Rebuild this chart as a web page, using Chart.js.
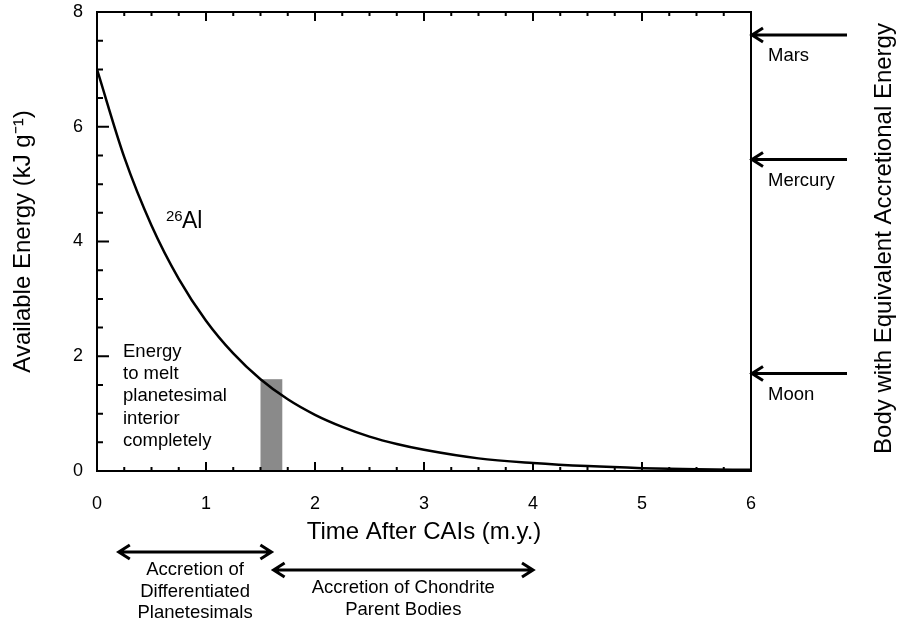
<!DOCTYPE html>
<html>
<head>
<meta charset="utf-8">
<script src="https://cdn.jsdelivr.net/npm/chart.js@4/dist/chart.umd.min.js"></script>
<style>
  html, body { margin: 0; padding: 0; background: #fff; }
</style>
</head>
<body>
<canvas id="energyChart" width="899" height="623"></canvas>
<script>
// 26Al curve (time in m.y., energy in kJ/g)
const timeMy = [0, 0.25, 0.5, 0.75, 1.0, 1.25, 1.5, 1.75, 2.0, 2.25, 2.5, 2.75, 3.0, 3.5, 4.0, 4.5, 5.0, 5.5, 6.0];
const energyAl26 = [7.00, 5.47, 4.28, 3.35, 2.62, 2.05, 1.60, 1.25, 0.98, 0.77, 0.60, 0.47, 0.37, 0.22, 0.14, 0.085, 0.05, 0.03, 0.02];

const xTicks = [0, 1, 2, 3, 4, 5, 6];
const yTicks = [0, 2, 4, 6, 8];

// grey bar: energy to melt a planetesimal
const meltTime = [1.5, 1.7];
const meltEnergy = 1.6;
const meltText = ['Energy', 'to melt', 'planetesimal', 'interior', 'completely'];

// bodies with equivalent accretional energy (right side arrows)
const bodyNames = ['Mars', 'Mercury', 'Moon'];
const bodyEnergy = [7.6, 5.43, 1.70];

// accretion intervals under the time axis
const phaseStart = [0.2, 1.62];
const phaseEnd = [1.6, 4.0];
const phaseText = [
    ['Accretion of', 'Differentiated', 'Planetesimals'],
    ['Accretion of Chondrite', 'Parent Bodies']
];

const FONT = "'Liberation Sans', Arial, Helvetica, sans-serif";
Chart.defaults.font.family = FONT;
Chart.defaults.color = '#000';

function arrowHead(ctx, tipX, tipY, dir) {
    // dir = -1 points left, +1 points right
    ctx.moveTo(tipX - dir * 11, tipY - 7);
    ctx.lineTo(tipX, tipY);
    ctx.lineTo(tipX - dir * 11, tipY + 7);
}

const meltBar = {
    id: 'meltBar',
    beforeDatasetsDraw(chart) {
        const { ctx, scales: { x, y } } = chart;
        const x0 = x.getPixelForValue(meltTime[0]);
        const x1 = x.getPixelForValue(meltTime[1]);
        const yTop = y.getPixelForValue(meltEnergy);
        const yBot = y.getPixelForValue(0);
        ctx.save();
        ctx.fillStyle = '#8a8a8a';
        ctx.fillRect(x0, yTop, x1 - x0, yBot - yTop);
        ctx.restore();
    }
};

const frameAndNotes = {
    id: 'frameAndNotes',
    afterDatasetsDraw(chart) {
        const { ctx, chartArea: a, scales: { x, y } } = chart;
        ctx.save();

        // box + inward ticks
        ctx.strokeStyle = '#000';
        ctx.lineWidth = 2;
        ctx.strokeRect(a.left, a.top, a.right - a.left, a.bottom - a.top);
        ctx.beginPath();
        for (let v = 0; v <= 6; v += 0.25) {
            const px = x.getPixelForValue(v);
            const len = v % 1 === 0 ? 9 : 4;
            ctx.moveTo(px, a.bottom); ctx.lineTo(px, a.bottom - len);
            ctx.moveTo(px, a.top); ctx.lineTo(px, a.top + len);
        }
        for (let v = 0; v <= 8; v += 0.5) {
            const py = y.getPixelForValue(v);
            const len = v % 2 === 0 ? 12 : 6;
            ctx.moveTo(a.left, py); ctx.lineTo(a.left + len, py);
        }
        ctx.stroke();

        // 26Al label
        ctx.fillStyle = '#000';
        ctx.textBaseline = 'alphabetic';
        ctx.textAlign = 'left';
        ctx.font = '15px ' + FONT;
        ctx.fillText('26', 166, 221);
        ctx.font = '23px ' + FONT;
        ctx.fillText('Al', 182, 228);

        // melt note
        ctx.font = '18.5px ' + FONT;
        ctx.textBaseline = 'middle';
        meltText.forEach((t, i) => ctx.fillText(t, a.left + 26, 352 + i * 22.2));

        // right side arrows
        ctx.lineWidth = 3;
        ctx.beginPath();
        bodyEnergy.forEach(e => {
            const py = y.getPixelForValue(e);
            ctx.moveTo(a.right + 96, py);
            ctx.lineTo(a.right + 1, py);
            arrowHead(ctx, a.right + 1, py, -1);
        });
        ctx.stroke();
        bodyNames.forEach((n, i) => {
            ctx.fillText(n, a.right + 17, y.getPixelForValue(bodyEnergy[i]) + 21);
        });

        // accretion arrows under the axis
        const rowY = [a.bottom + 81, a.bottom + 99];
        ctx.beginPath();
        phaseStart.forEach((s, i) => {
            const p0 = x.getPixelForValue(s);
            const p1 = x.getPixelForValue(phaseEnd[i]);
            ctx.moveTo(p0, rowY[i]); ctx.lineTo(p1, rowY[i]);
            arrowHead(ctx, p0, rowY[i], -1);
            arrowHead(ctx, p1, rowY[i], 1);
        });
        ctx.stroke();
        ctx.textAlign = 'center';
        phaseText.forEach((lines, i) => {
            const cx = x.getPixelForValue((phaseStart[i] + phaseEnd[i]) / 2);
            lines.forEach((t, j) => ctx.fillText(t, cx, rowY[i] + 18 + j * 21.5));
        });

        // right axis title
        ctx.translate(884, (a.top + a.bottom) / 2 - 3);
        ctx.rotate(-Math.PI / 2);
        ctx.font = '24px ' + FONT;
        ctx.fillText('Body with Equivalent Accretional Energy', 0, 0);

        ctx.restore();
    }
};

new Chart(document.getElementById('energyChart'), {
    type: 'line',
    data: {
        datasets: [{
            label: '26Al',
            data: timeMy.map((t, i) => ({ x: t, y: energyAl26[i] })),
            borderColor: '#000',
            borderWidth: 2.5,
            pointRadius: 0,
            fill: false,
            cubicInterpolationMode: 'monotone'
        }]
    },
    options: {
        responsive: false,
        animation: false,
        layout: { padding: { top: 12, right: 148, left: 0, bottom: 0 } },
        plugins: { legend: { display: false }, tooltip: { enabled: false } },
        scales: {
            x: {
                type: 'linear',
                min: xTicks[0],
                max: xTicks[xTicks.length - 1],
                afterBuildTicks: s => { s.ticks = xTicks.map(v => ({ value: v })); },
                afterFit: s => { s.height = 152; s.paddingLeft = 0; s.paddingRight = 0; },
                grid: { display: false, drawTicks: false },
                border: { display: false },
                ticks: { font: { size: 18 }, padding: 22, maxRotation: 0 },
                title: {
                    display: true,
                    text: 'Time After CAIs (m.y.)',
                    font: { size: 24 },
                    padding: { top: 0, bottom: 76 }
                }
            },
            y: {
                min: yTicks[0],
                max: yTicks[yTicks.length - 1],
                afterBuildTicks: s => { s.ticks = yTicks.map(v => ({ value: v })); },
                afterFit: s => { s.width = 97; s.paddingTop = 0; s.paddingBottom = 0; },
                grid: { display: false, drawTicks: false },
                border: { display: false },
                ticks: { font: { size: 18 }, padding: 14 },
                title: {
                    display: true,
                    text: 'Available Energy (kJ g\u207B\u00B9)',
                    font: { size: 24 },
                    padding: { top: 9, bottom: 0 }
                }
            }
        }
    },
    plugins: [meltBar, frameAndNotes]
});
</script>
</body>
</html>
